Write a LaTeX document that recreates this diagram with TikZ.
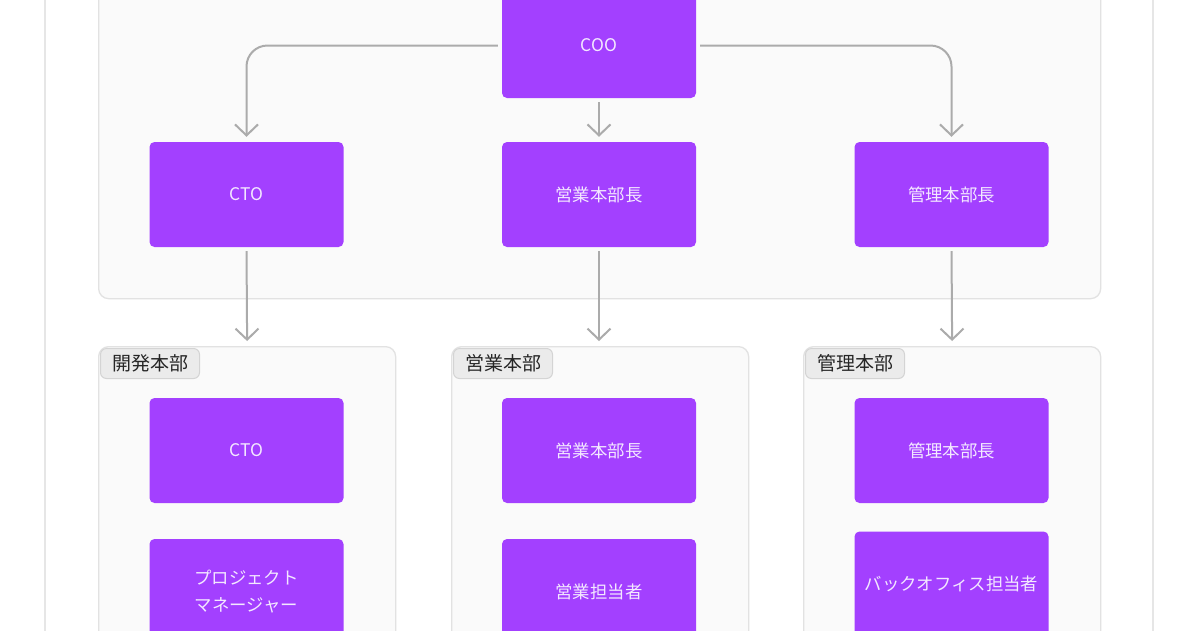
\documentclass[tikz,border=0pt]{standalone}
\usepackage{fontspec}
\setmainfont{Noto Sans CJK JP}
\usetikzlibrary{arrows.meta}
\definecolor{nodefill}{HTML}{A340FF}
\definecolor{nodetext}{HTML}{F3E8FF}
\definecolor{grpfill}{HTML}{FAFAFA}
\definecolor{grpline}{HTML}{E2E2E2}
\definecolor{outerline}{HTML}{E6E6E6}
\definecolor{tagfill}{HTML}{EBEBEB}
\definecolor{tagline}{HTML}{D4D4D4}
\definecolor{connc}{HTML}{ABABAB}
\begin{document}
\begin{tikzpicture}[x=1pt,y=-1pt,
  role/.style={fill=nodefill, rounded corners=5pt, minimum width=194pt, minimum height=105pt, inner sep=0pt, text=nodetext, font=\fontsize{17.4}{27}\selectfont, align=center},
  grp/.style={fill=grpfill, draw=grpline, line width=1.3pt, rounded corners=10pt, inner sep=0pt},
  tagbox/.style={fill=tagfill, draw=tagline, line width=1pt, rounded corners=6pt, font=\fontsize{19}{22}\selectfont, text=black!85, inner sep=0pt, minimum height=30pt, minimum width=99pt},
  conn/.style={draw=connc, line width=2pt, -{Straight Barb[length=11pt,width=23pt,line width=2pt]}, shorten <=4pt, shorten >=5pt, rounded corners=21pt}]
\clip (0,0) rectangle (1200,630);
\useasboundingbox (0,0) rectangle (1200,630);
\fill[white] (0,0) rectangle (1200,630);
% outer container
\draw[outerline, line width=1.5pt] (45,-50) rectangle (1153,700);
% top group
\node[grp, anchor=north west, minimum width=1002pt, minimum height=318pt] (gtop) at (98,-20) {};
% bottom groups
\node[grp, anchor=north west, minimum width=297pt, minimum height=340pt] (g1) at (98,346) {};
\node[grp, anchor=north west, minimum width=297pt, minimum height=340pt] (g2) at (451,346) {};
\node[grp, anchor=north west, minimum width=297pt, minimum height=340pt] (g3) at (803,346) {};
% tags
\node[tagbox, anchor=north west] (t1) at (100,348) {開発本部};
\node[tagbox, anchor=north west] (t2) at (453,348) {営業本部};
\node[tagbox, anchor=north west] (t3) at (805,348) {管理本部};
% top row nodes
\node[role] (coo) at (599,45.5) {COO};
\node[role] (cto) at (246.5,194.5) {CTO};
\node[role] (eig) at (599,194.5) {営業本部長};
\node[role] (kan) at (951.5,194.5) {管理本部長};
% group members
\node[role] (cto2) at (246.5,450.5) {CTO};
\node[role] (pm) at (246.5,591.5) {プロジェクト\\マネージャー};
\node[role] (eig2) at (599,450.5) {営業本部長};
\node[role] (eigt) at (599,591.5) {営業担当者};
\node[role] (kan2) at (951.5,450.5) {管理本部長};
\node[role] (back) at (951.5,584) {バックオフィス担当者};
% connectors
\draw[conn] (coo.west) -| (cto.north);
\draw[conn] (coo.east) -| (kan.north);
\draw[conn] (coo.south) -- (eig.north);
\draw[conn] (cto.south) -- (g1.north);
\draw[conn] (eig.south) -- (eig.south |- g2.north);
\draw[conn] (kan.south) -- (g3.north);
\end{tikzpicture}
\end{document}
